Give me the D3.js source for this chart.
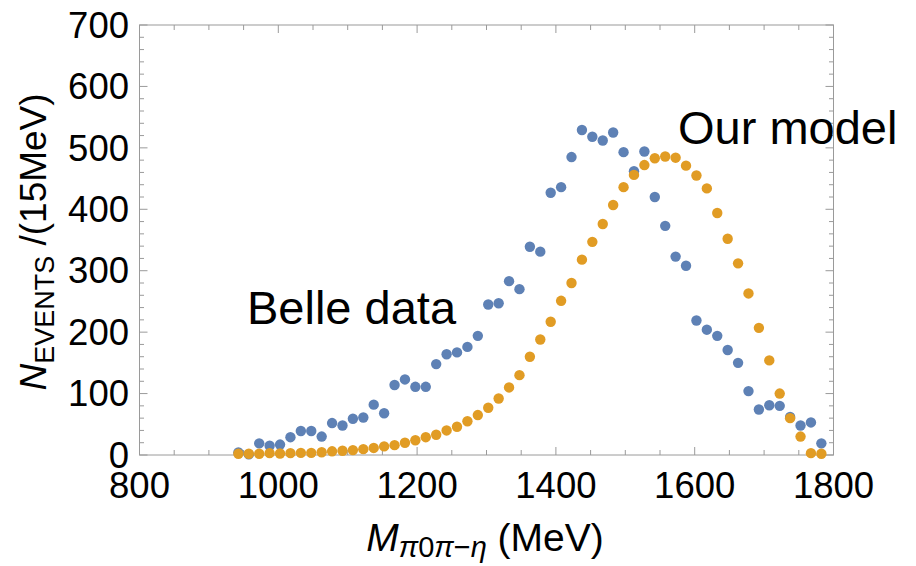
<!DOCTYPE html>
<html>
<head>
<meta charset="UTF-8">
<title>Belle data vs model</title>
<script src="https://d3js.org/d3.v7.min.js"></script>
<style>
  body { margin: 0; background: #fff; }
  svg text { font-family: "Liberation Sans", Arial, Helvetica, sans-serif; fill: #000; }
</style>
</head>
<body>
<div id="chart"></div>
<script>
// bin centres, 15 MeV bins starting at 942.5
const binStart = 942.5, binWidth = 15;
const belle = [4, 1, 19, 15, 17, 29, 39, 39, 30, 52, 48, 59, 61, 82, 68, 114, 123, 111, 111, 148,
  164, 167, 176, 194, 245, 247, 283, 270, 339, 331, 427, 436, 485, 529, 518, 512, 525, 493, 462, 494,
  420, 373, 323, 308, 219, 204, 194, 171, 150, 104, 74, 81, 80, 62, 48, 53, 19];
const model = [2, 2, 2, 3, 2.5, 3, 3.5, 3.5, 4.5, 6, 7, 8, 9.5, 11.5, 14, 16, 20, 24, 29, 33,
  40, 46, 55, 65, 77, 92, 110, 130, 160, 188, 217, 251, 280, 318, 347, 376, 407, 436, 456, 472,
  483, 486, 484, 471, 455, 434, 394, 352, 312, 263, 207, 154, 100, 60, 30, 3, 2];
const xTicks = [800, 1000, 1200, 1400, 1600, 1800];
const yTicks = [0, 100, 200, 300, 400, 500, 600, 700];

const width = 916, height = 566;
const plotLeft = 139.5, plotRight = 833.5, plotTop = 25, plotBottom = 455;

const svg = d3.select("#chart").append("svg")
  .attr("width", width)
  .attr("height", height);

const x = d3.scaleLinear().domain([800, 1800]).range([plotLeft, plotRight]);
const y = d3.scaleLinear().domain([0, 700]).range([plotBottom, plotTop]);

// frame
const frame = svg.append("g").attr("stroke", "#9a9a9a").attr("stroke-width", 1).attr("fill", "none");
frame.append("rect")
  .attr("x", plotLeft).attr("y", plotTop)
  .attr("width", plotRight - plotLeft).attr("height", plotBottom - plotTop);

// ticks on all four sides, pointing inward
const xMinor = d3.range(800, 1801, 50);
const yMinor = d3.range(0, 701, 20);
xMinor.forEach(v => {
  const len = v % 200 === 0 ? 8 : 5;
  frame.append("line").attr("x1", x(v)).attr("x2", x(v)).attr("y1", plotBottom).attr("y2", plotBottom - len);
  frame.append("line").attr("x1", x(v)).attr("x2", x(v)).attr("y1", plotTop).attr("y2", plotTop + len);
});
yMinor.forEach(v => {
  const len = v % 100 === 0 ? 8 : 4.5;
  frame.append("line").attr("y1", y(v)).attr("y2", y(v)).attr("x1", plotLeft).attr("x2", plotLeft + len);
  frame.append("line").attr("y1", y(v)).attr("y2", y(v)).attr("x1", plotRight).attr("x2", plotRight - len);
});

// tick labels
svg.append("g").selectAll("text").data(xTicks).join("text")
  .attr("x", d => x(d)).attr("y", 498)
  .attr("text-anchor", "middle")
  .style("font-size", "36.5px")
  .text(d => d);

svg.append("g").selectAll("text").data(yTicks).join("text")
  .attr("x", 129).attr("y", d => y(d))
  .attr("dy", "0.35em")
  .attr("text-anchor", "end")
  .style("font-size", "36.5px")
  .text(d => d);

// points
const pts = svg.append("g");
pts.selectAll(".belle").data(belle).join("circle")
  .attr("class", "belle")
  .attr("cx", (d, i) => x(binStart + i * binWidth))
  .attr("cy", d => y(d))
  .attr("r", 5.2)
  .attr("fill", "#5e81b5");
pts.selectAll(".model").data(model).join("circle")
  .attr("class", "model")
  .attr("cx", (d, i) => x(binStart + i * binWidth))
  .attr("cy", d => y(d))
  .attr("r", 5.2)
  .attr("fill", "#e19c24");

// labels
svg.append("text").attr("x", 247).attr("y", 324).style("font-size", "47px").text("Belle data");
svg.append("text").attr("x", 678).attr("y", 144).style("font-size", "47px").text("Our model");

// x axis title
const xt = svg.append("text")
  .attr("x", 485).attr("y", 551)
  .attr("text-anchor", "middle")
  .style("font-size", "39px");
xt.append("tspan").style("font-style", "italic").text("M");
xt.append("tspan").attr("dy", 6).style("font-size", "29px").style("font-style", "italic").text("π");
xt.append("tspan").style("font-size", "29px").text("0");
xt.append("tspan").style("font-size", "29px").style("font-style", "italic").text("π");
xt.append("tspan").style("font-size", "29px").text("−");
xt.append("tspan").style("font-size", "29px").style("font-style", "italic").text("η");
xt.append("tspan").attr("dy", -6).text(" (MeV)");

// y axis title
const yt = svg.append("text")
  .attr("transform", "translate(46,242) rotate(-90)")
  .attr("text-anchor", "middle")
  .style("font-size", "37px");
yt.append("tspan").style("font-style", "italic").text("N");
yt.append("tspan").attr("dy", 8).style("font-size", "27px").text("EVENTS");
yt.append("tspan").attr("dy", -8).text(" /(15MeV)");
</script>
</body>
</html>
